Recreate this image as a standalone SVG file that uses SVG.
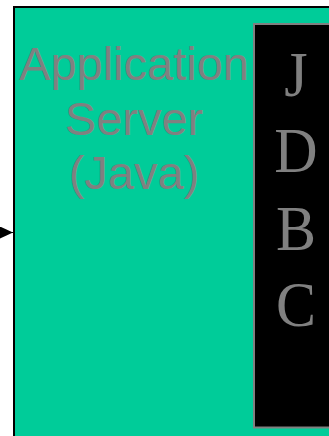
<svg xmlns="http://www.w3.org/2000/svg" width="329" height="436" viewBox="0 0 329 436">
  <style>
    .server { fill: #00cc99; stroke: #000000; stroke-width: 2; }
    .jdbc { fill: #000000; stroke: #808080; stroke-width: 2; }
    .label { fill: #808080; font-family: "Liberation Sans", Arial, sans-serif; font-size: 47px; text-anchor: middle; }
    .letter { fill: #808080; font-family: "Liberation Serif", "Times New Roman", serif; font-size: 60px; text-anchor: middle; }
  </style>
  <defs>
    <marker id="arrowhead" markerWidth="14" markerHeight="12" refX="13" refY="6" orient="auto" markerUnits="userSpaceOnUse">
      <path d="M0,0 L13,6 L0,12 Z" fill="#000000"/>
    </marker>
  </defs>
  <rect width="329" height="436" fill="#ffffff"/>

  <g id="app-server">
    <rect class="server" x="14" y="7" width="330" height="440"/>
    <text class="label" x="134" y="80">Application</text>
    <text class="label" x="134" y="135">Server</text>
    <text class="label" x="134" y="189">(Java)</text>
  </g>

  <g id="jdbc">
    <rect class="jdbc" x="254" y="24" width="90" height="403.5"/>
    <!-- letters drawn slightly taller than the font's natural proportions -->
    <g transform="scale(1,1.06)">
      <text class="letter" x="296" y="90.6">J</text>
      <text class="letter" x="296" y="162.3">D</text>
      <text class="letter" x="296" y="235.8">B</text>
      <text class="letter" x="296" y="307.5">C</text>
    </g>
  </g>

  <g id="connectors">
    <line x1="-20" y1="232.5" x2="13" y2="232.5" stroke="#000000" stroke-width="1" marker-end="url(#arrowhead)"/>
  </g>
</svg>
